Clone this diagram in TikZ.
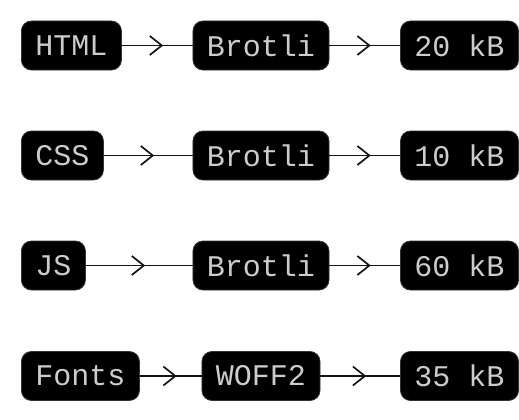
\documentclass[tikz,border=0pt]{standalone}
\usepackage{fontspec}
\setmonofont{Liberation Mono}
\usetikzlibrary{arrows.meta,decorations.markings}
\begin{document}
\begin{tikzpicture}[x=1pt, y=1pt,
  stage/.style={rectangle, draw=black!80, fill=black, text=black!20, rounded corners=10pt, minimum height=49pt, inner xsep=14pt, line width=0.8pt, font=\ttfamily\fontsize{30}{30}\selectfont},
  flow/.style={draw=black!92, line width=1.7pt, postaction={decorate}, decoration={markings, mark=at position 0.5 with {\arrow[xshift=6pt]{Straight Barb[length=12pt, width=19pt, line width=1.7pt]}}}}]
  \useasboundingbox (0,0) rectangle (519,-420);
  % Nodes
  \node (html) [stage, anchor=west] at (21, -45.5) {HTML};
  \node (br-1) [stage] at (261, -45.5) {Brotli};
  \node (size-1) [stage] at (459.5, -45.5) {20 kB};
  \node (css) [stage, anchor=west] at (21, -155.5) {CSS};
  \node (br-2) [stage] at (261, -155.5) {Brotli};
  \node (size-2) [stage] at (459.5, -155.5) {10 kB};
  \node (js) [stage, anchor=west] at (21, -265.5) {JS};
  \node (br-3) [stage] at (261, -265.5) {Brotli};
  \node (size-3) [stage] at (459.5, -265.5) {60 kB};
  \node (fonts) [stage, anchor=west] at (21, -376) {Fonts};
  \node (woff) [stage] at (261, -376) {WOFF2};
  \node (size-4) [stage] at (459.5, -376) {35 kB};
  % Arrows
  \draw[flow] (html) -- (br-1);
  \draw[flow] (br-1) -- (size-1);

  \draw[flow] (css) -- (br-2);
  \draw[flow] (br-2) -- (size-2);

  \draw[flow] (js) -- (br-3);
  \draw[flow] (br-3) -- (size-3);

  \draw[flow] (fonts) -- (woff);
  \draw[flow] (woff) -- (size-4);
\end{tikzpicture}
\end{document}
